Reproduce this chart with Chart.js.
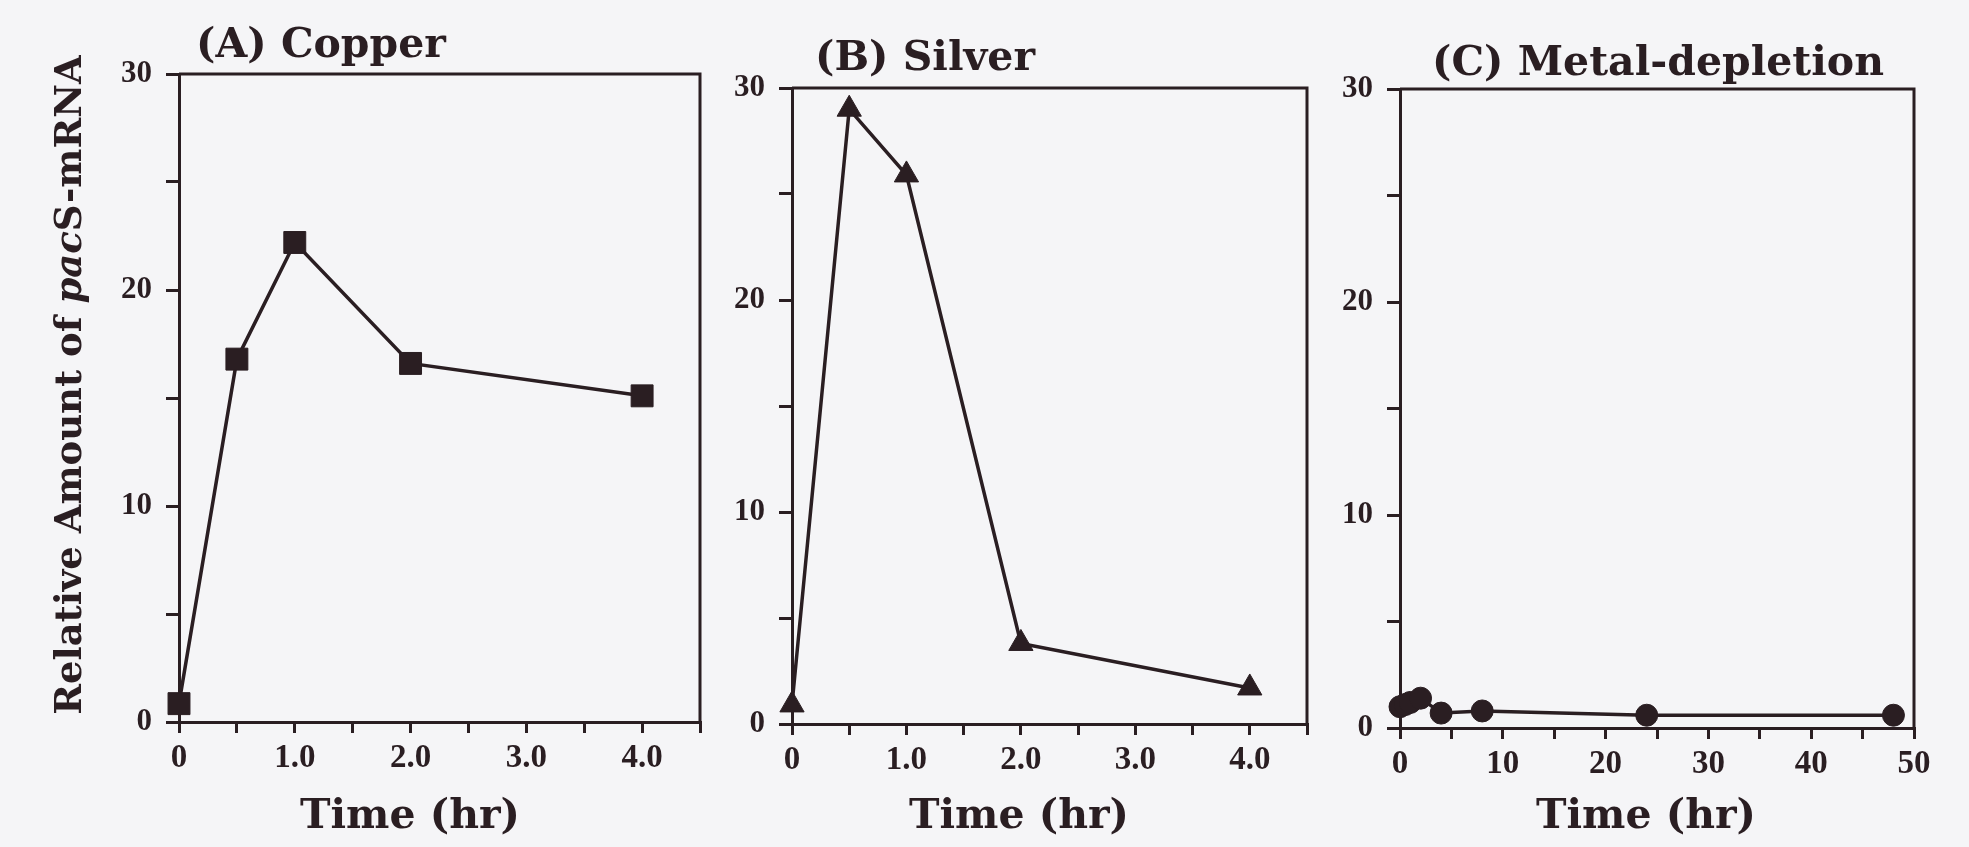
<!DOCTYPE html>
<html>
<head>
<meta charset="utf-8">
<title>pacS-mRNA time course</title>
<script src="https://cdn.jsdelivr.net/npm/chart.js@4.4.1/dist/chart.umd.min.js"></script>
<style>
  html, body { margin: 0; padding: 0; background: #f5f5f7; }
  #figure { position: relative; width: 1969px; height: 847px; overflow: hidden; }
  #figure canvas { position: absolute; top: 0; }
</style>
</head>
<body>
<div id="figure">
  <canvas id="copperChart" width="720" height="847" style="left:0px"></canvas>
  <canvas id="silverChart" width="610" height="847" style="left:720px"></canvas>
  <canvas id="depletionChart" width="639" height="847" style="left:1330px"></canvas>
</div>
<script>
// Values (relative amount of pacS-mRNA)
const copperHours = [0, 0.5, 1, 2, 4];
const copperLevel = [0.85, 16.8, 22.2, 16.6, 15.1];

const silverHours = [0, 0.5, 1, 2, 4];
const silverLevel = [0.9, 29.0, 25.9, 3.8, 1.7];

const depletionHours = [0, 0.5, 1, 2, 4, 8, 24, 48];
const depletionLevel = [1.0, 1.1, 1.2, 1.4, 0.7, 0.8, 0.6, 0.6];

const hourTickLabels = ['0', '1.0', '2.0', '3.0', '4.0'];
const levelTickLabels = ['0', '10', '20', '30'];

const INK = '#2a1e22';
const TITLE_FONT = 'bold 41px "DejaVu Serif"';
const TICK_FONT = { family: '"Liberation Serif"', weight: 'bold', size: 33, lineHeight: 1 };

// box frame (top + right) and the panel / axis titles
const panelDecor = {
    id: 'panelDecor',
    afterDraw(chart, args, opts) {
        const { ctx, chartArea: a } = chart;
        ctx.save();
        ctx.strokeStyle = INK;
        ctx.lineWidth = 3;
        ctx.beginPath();
        ctx.moveTo(a.left, a.top);
        ctx.lineTo(a.right, a.top);
        ctx.lineTo(a.right, a.bottom);
        ctx.stroke();

        ctx.fillStyle = INK;
        ctx.font = TITLE_FONT;
        ctx.textBaseline = 'alphabetic';
        ctx.textAlign = 'left';
        ctx.fillText(opts.title, opts.titleX, opts.titleY);
        ctx.textAlign = 'center';
        ctx.fillText(opts.xTitle, opts.xTitleX, opts.xTitleY);

        if (opts.yTitle) {
            // mixed upright / italic text, rotated to read bottom-to-top
            const parts = opts.yTitle;
            let total = 0;
            parts.forEach(p => { ctx.font = p.font; total += ctx.measureText(p.text).width; });
            ctx.translate(opts.yTitleX, opts.yTitleY);
            ctx.rotate(-Math.PI / 2);
            ctx.textAlign = 'left';
            let x = -total / 2;
            parts.forEach(p => {
                ctx.font = p.font;
                ctx.fillText(p.text, x, 0);
                x += ctx.measureText(p.text).width;
            });
        }
        ctx.restore();
    }
};

function makePanel(id, p) {
    return new Chart(document.getElementById(id), {
        type: 'line',
        data: {
            datasets: [{
                data: p.hours.map((h, i) => ({ x: h, y: p.level[i] })),
                borderColor: INK,
                backgroundColor: INK,
                borderWidth: 3.5,
                tension: 0,
                pointStyle: p.marker,
                pointRadius: p.markerRadius,
                pointBorderWidth: 1,
                pointBackgroundColor: INK,
                pointBorderColor: INK,
                clip: false
            }]
        },
        options: {
            responsive: false,
            animation: false,
            layout: { padding: { top: p.top, right: p.padRight, bottom: 0, left: 0 } },
            plugins: {
                legend: { display: false },
                tooltip: { enabled: false },
                panelDecor: p.decor
            },
            scales: {
                x: {
                    type: 'linear',
                    min: 0,
                    max: p.xMax,
                    afterFit: s => { s.height = p.xAxisHeight; },
                    ticks: {
                        stepSize: p.xStep,
                        autoSkip: false,
                        maxRotation: 0,
                        color: INK,
                        font: TICK_FONT,
                        padding: 9,
                        callback: p.xLabel
                    },
                    grid: { drawOnChartArea: false, tickLength: 11, color: INK, lineWidth: 3 },
                    border: { color: INK, width: 3 }
                },
                y: {
                    min: 0,
                    max: 30,
                    afterFit: s => { s.width = p.yAxisWidth; },
                    ticks: {
                        stepSize: 5,
                        autoSkip: false,
                        color: INK,
                        font: { ...TICK_FONT, size: 31 },
                        padding: 14,
                        callback: v => (v % 10 === 0 ? levelTickLabels[v / 10] : '')
                    },
                    grid: { drawOnChartArea: false, tickLength: 13, color: INK, lineWidth: 3 },
                    border: { color: INK, width: 3 }
                }
            }
        },
        plugins: [panelDecor]
    });
}

const hourLabel = v => (Number.isInteger(v) ? hourTickLabels[v] : '');

makePanel('copperChart', {
    hours: copperHours, level: copperLevel,
    marker: 'rect', markerRadius: 15.5,
    xMax: 4.5, xStep: 0.5, xLabel: hourLabel,
    top: 74, padRight: 20, yAxisWidth: 179, xAxisHeight: 125,
    decor: {
        title: '(A) Copper', titleX: 196, titleY: 57,
        xTitle: 'Time (hr)', xTitleX: 410, xTitleY: 828,
        yTitleX: 81, yTitleY: 385,
        yTitle: [
            { text: 'Relative Amount of ', font: 'bold 37px "DejaVu Serif"' },
            { text: 'pac', font: 'italic bold 37px "DejaVu Serif"' },
            { text: 'S-mRNA', font: 'bold 37px "DejaVu Serif"' }
        ]
    }
});

makePanel('silverChart', {
    hours: silverHours, level: silverLevel,
    marker: 'triangle', markerRadius: 14,
    xMax: 4.5, xStep: 0.5, xLabel: hourLabel,
    top: 88, padRight: 23, yAxisWidth: 72, xAxisHeight: 123,
    decor: {
        title: '(B) Silver', titleX: 95, titleY: 70,
        xTitle: 'Time (hr)', xTitleX: 299, xTitleY: 828
    }
});

makePanel('depletionChart', {
    hours: depletionHours, level: depletionLevel,
    marker: 'circle', markerRadius: 11,
    xMax: 50, xStep: 5, xLabel: v => (v % 10 === 0 ? String(v) : ''),
    top: 89, padRight: 55, yAxisWidth: 70, xAxisHeight: 119,
    decor: {
        title: '(C) Metal-depletion', titleX: 102, titleY: 75,
        xTitle: 'Time (hr)', xTitleX: 316, xTitleY: 828
    }
});
</script>
</body>
</html>
